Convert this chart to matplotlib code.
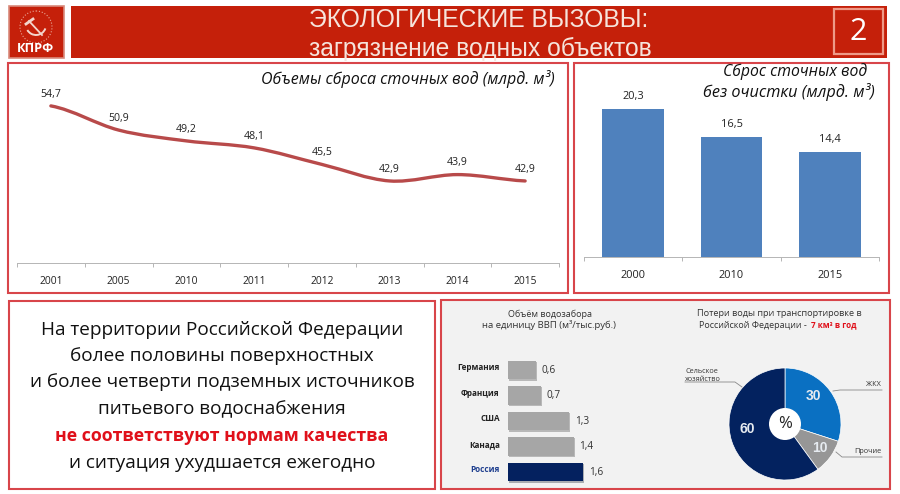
import matplotlib
matplotlib.use("Agg")
import matplotlib.pyplot as plt
import matplotlib.patheffects as pe
from matplotlib.patches import Rectangle, Circle, PathPatch, Arc
from matplotlib.path import Path

plt.rcParams['font.family'] = ['Open Sans', 'DejaVu Sans']

line_years = ["2001", "2005", "2010", "2011", "2012", "2013", "2014", "2015"]
line_values = [54.7, 50.9, 49.2, 48.1, 45.5, 42.9, 43.9, 42.9]
bar_years = ["2000", "2010", "2015"]
bar_values = [20.3, 16.5, 14.4]
countries = ["Германия", "Франция", "США", "Канада", "Россия"]
intake = [0.6, 0.7, 1.3, 1.4, 1.6]
pie_labels = ["ЖКХ", "Прочие", "Сельское\nхозяйство"]
pie_values = [30, 10, 60]
body_lines = ["На территории Российской Федерации",
              "более половины поверхностных",
              "и более четверти подземных источников",
              "питьевого водоснабжения",
              "не соответствуют нормам качества",
              "и ситуация ухудшается ежегодно"]

W, H = 900, 494
RED = "#c5200a"
FRAME = "#d8454a"
fig = plt.figure(figsize=(W/100, H/100), dpi=100)

# page layer in pixel coordinates
bg = fig.add_axes([0, 0, 1, 1])
bg.set_xlim(0, W)
bg.set_ylim(H, 0)
bg.axis("off")


def px_axes(x0, y0, x1, y1):
    ax = fig.add_axes([x0/W, 1-y1/H, (x1-x0)/W, (y1-y0)/H])
    ax.patch.set_alpha(0)
    return ax


def frame(x0, y0, x1, y1, face="white"):
    bg.add_patch(Rectangle((x0, y0), x1-x0, y1-y0, fc=face, ec=FRAME, lw=1.5))


# header
bg.add_patch(Rectangle((9, 6), 55, 52, fc=RED, ec="#d98a7c", lw=1.2))
bg.add_patch(Rectangle((71, 6), 816, 52, fc=RED, ec="none"))
bg.add_patch(Rectangle((834, 9), 49, 45, fc="none", ec="#ee9a88", lw=1.6))
bg.text(858.5, 32, "2", color="white", fontsize=22, ha="center", va="center")
bg.text(479, 20, "ЭКОЛОГИЧЕСКИЕ ВЫЗОВЫ:", color="#f6e4dc", fontsize=17.7, ha="center", va="center",
        family=["Liberation Sans"])
bg.text(480, 49, "загрязнение водных объектов", color="#f6e4dc", fontsize=17.7, ha="center", va="center",
        family=["Liberation Sans"])

# logo: rough hammer and sickle
bg.add_patch(Circle((36, 27), 16, fc="none", ec="#e8a595", lw=0.8, ls=":"))
bg.plot([29, 42], [21, 35], color="#f3d5cc", lw=1.3)
bg.plot([26, 33], [24, 19], color="#f3d5cc", lw=2)
bg.add_patch(Arc((36, 25), 20, 20, theta1=20, theta2=150, ec="#f3d5cc", lw=1.4))
bg.text(36, 49, "КПРФ", color="white", fontsize=9.3, fontweight="bold", ha="center", va="center")

frame(8, 63, 568, 293)
frame(574, 63, 889, 293)
frame(9, 301, 435, 489)
frame(441, 300, 890, 489, face="#f2f2f2")

# line chart, drawn as a smooth curve through the yearly values
ax1 = px_axes(17, 68, 559, 263)
ax1.set_xlim(-0.5, len(line_values)-0.5)
ax1.set_ylim(30, 60.66)
xs = list(range(len(line_values)))
verts = [(xs[0], line_values[0])]
codes = [Path.MOVETO]
for i in range(len(xs)-1):
    prev = line_values[max(i-1, 0)]
    cur = line_values[i]
    nxt = line_values[i+1]
    after = line_values[min(i+2, len(xs)-1)]
    verts += [(xs[i]+1/3, cur+(nxt-prev)/6), (xs[i+1]-1/3, nxt-(after-cur)/6), (xs[i+1], nxt)]
    codes += [Path.CURVE4]*3
ax1.add_patch(PathPatch(Path(verts, codes), fc="none", ec="#b84a4a", lw=2.4, capstyle="round"))
for x, v in zip(xs, line_values):
    ax1.annotate(f"{v}".replace(".", ","), (x, v), xytext=(0, 8.5), textcoords="offset points",
                 ha="center", va="center", fontsize=7.6, color="#222222")
ax1.set_xticks(xs, line_years)
ax1.set_xticks([i-0.5 for i in range(len(xs)+1)], minor=True)
ax1.tick_params(axis="x", which="major", length=0, labelsize=7.4, pad=9, labelcolor="#222222")
ax1.tick_params(axis="x", which="minor", length=3, color="#b5b5b5", width=0.7)
ax1.set_yticks([])
for s in ["top", "left", "right"]:
    ax1.spines[s].set_visible(False)
ax1.spines["bottom"].set_color("#b5b5b5")
ax1.spines["bottom"].set_linewidth(0.7)
bg.text(408, 79, "Объемы сброса сточных вод (млрд. м³)", style="italic", fontsize=11.5, ha="center", va="center",
        color="#111111")

# column chart
ax2 = px_axes(584, 68, 879, 257)
ax2.bar(range(3), bar_values, width=0.63, color="#4f81bd")
ax2.set_xlim(-0.5, 2.5)
ax2.set_ylim(0, 25.9)
for i, v in enumerate(bar_values):
    ax2.annotate(f"{v}".replace(".", ","), (i, v), xytext=(0, 9), textcoords="offset points",
                 ha="center", va="center", fontsize=7.9, color="#222222")
ax2.set_xticks(range(3), bar_years)
ax2.set_xticks([-0.5, 0.5, 1.5, 2.5], minor=True)
ax2.tick_params(axis="x", which="major", length=0, labelsize=7.9, pad=9, labelcolor="#222222")
ax2.tick_params(axis="x", which="minor", length=3, color="#b5b5b5", width=0.7)
ax2.set_yticks([])
for s in ["top", "left", "right"]:
    ax2.spines[s].set_visible(False)
ax2.spines["bottom"].set_color("#b5b5b5")
ax2.spines["bottom"].set_linewidth(0.7)
bg.text(795, 72, "Сброс сточных вод", style="italic", fontsize=11.3, ha="center", va="center", color="#111111")
bg.text(789, 92, "без очистки (млрд. м³)", style="italic", fontsize=11.7, ha="center", va="center", color="#111111")

# text block
body_y = [330, 356, 382, 409, 436, 463]
for i, (s, y) in enumerate(zip(body_lines, body_y)):
    red = i == 4
    bg.text(222, y, s, ha="center", va="center", fontsize=12.8 if red else 13.7,
            color="#e0101a" if red else "#111111", fontweight="bold" if red else "normal")

# horizontal bars
ax3 = px_axes(508, 357.25, 602, 484.75)
bar_colors = ["#a6a6a6"]*4 + ["#04215f"]
ax3.barh(range(5), intake, height=0.74, color=bar_colors,
         path_effects=[pe.SimplePatchShadow(offset=(0.7, -1), alpha=0.3), pe.Normal()])
ax3.set_xlim(0, 2)
ax3.set_ylim(4.5, -0.5)
ax3.axis("off")
for i, (name, v) in enumerate(zip(countries, intake)):
    ax3.annotate(f"{v}".replace(".", ","), (v, i), xytext=(4, 0), textcoords="offset points",
                 ha="left", va="center", fontsize=7.2, color="#333333", annotation_clip=False)
    ax3.annotate(name, (0, i), xytext=(-6, 1.5), textcoords="offset points", ha="right", va="center",
                 fontsize=5.9, fontweight="bold", annotation_clip=False,
                 color="#1f3f8f" if name == "Россия" else "#222222")
bg.text(550, 314, "Объём водозабора", fontsize=6.5, ha="center", va="center", color="#333333")
bg.text(549, 325, "на единицу ВВП (м³/тыс.руб.)", fontsize=6.8, ha="center", va="center", color="#333333")

# pie
ax4 = px_axes(725, 364, 845, 484)
ax4.pie(pie_values, startangle=90, counterclock=False, radius=56/60,
        colors=["#0a70c2", "#969696", "#03225f"], wedgeprops={"edgecolor": "white", "linewidth": 0.5})
ax4.set_xlim(-1, 1)
ax4.set_ylim(-1, 1)
ax4.add_patch(Circle((0, 0), 16/60, fc="white", ec="none", zorder=5))
ax4.text(0, 0, "%", fontsize=12, ha="center", va="center", zorder=6, color="#222222")

# labels over the pie
txt = fig.add_axes([0, 0, 1, 1])
txt.set_xlim(0, W)
txt.set_ylim(H, 0)
txt.axis("off")
txt.set_zorder(3)
for s, x, y in zip(pie_values, [813, 820, 747], [396, 448, 429]):
    txt.text(x, y, str(s), fontsize=10, fontweight="bold", color="#e6ebf0", ha="center", va="center",
             family=["Liberation Sans Narrow", "Liberation Sans"])
txt.text(779, 313, "Потери воды при транспортировке в", fontsize=6.6, ha="center", va="center", color="#333333")
txt.text(753, 325, "Российской Федерации -", fontsize=6.5, ha="center", va="center", color="#333333")
txt.text(834, 325, "7 км³ в год", fontsize=5.9, fontweight="bold", ha="center", va="center", color="#e0101a")
txt.plot([742, 735, 685], [387, 382, 382], color="#888888", lw=0.6)
txt.plot([833, 840, 882], [391, 390, 390], color="#888888", lw=0.6)
txt.plot([836, 842, 882], [452, 457, 457], color="#888888", lw=0.6)
txt.text(685, 375.5, pie_labels[2], fontsize=5.2, ha="left", va="center", color="#333333", linespacing=1.05)
txt.text(873, 384, pie_labels[0], fontsize=5.2, ha="center", va="center", color="#333333")
txt.text(867.5, 451, pie_labels[1], fontsize=5.2, ha="center", va="center", color="#333333")

fig.savefig("out.png", dpi=100)
